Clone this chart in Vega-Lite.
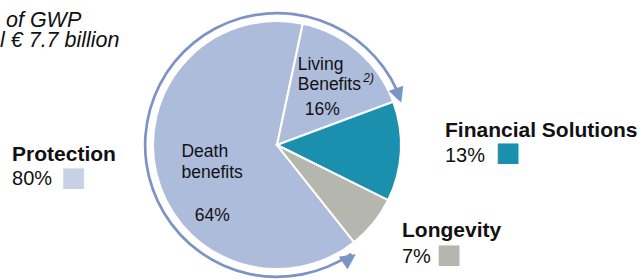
{
  "$schema": "https://vega.github.io/schema/vega-lite/v6.json",
  "autosize": "none",
  "width": 554,
  "height": 268,
  "padding": {"left": 0, "top": 11, "right": 90, "bottom": 0},
  "background": "white",
  "config": {"view": {"stroke": null}, "text": {"font": "Liberation Sans", "color": "#111111"}},
  "title": {
    "text": ["\u200b\u00a0of GWP", "l € 7.7 billion"],
    "anchor": "start",
    "frame": "group",
    "font": "Liberation Sans",
    "fontSize": 21.5,
    "fontStyle": "italic",
    "fontWeight": "normal",
    "color": "#111111",
    "lineHeight": 20,
    "offset": 0,
    "dy": 40
  },
  "datasets": {
    "slices": [
      {"segment": "Death benefits", "group": "Protection", "value": 64, "o": 1, "lines": "Death\nbenefits", "pct": "64%"},
      {"segment": "Living Benefits", "group": "Protection", "value": 16, "o": 2, "lines": "Living\nBenefits", "pct": "16%"},
      {"segment": "Financial Solutions", "group": "Financial Solutions", "value": 13, "o": 3, "lines": "", "pct": ""},
      {"segment": "Longevity", "group": "Longevity", "value": 7, "o": 4, "lines": "", "pct": ""}
    ],
    "groups": [
      {"group": "Protection", "value": 80, "o": 1, "pct": "80%"},
      {"group": "Financial Solutions", "value": 13, "o": 2, "pct": "13%"},
      {"group": "Longevity", "value": 7, "o": 3, "pct": "7%"}
    ]
  },
  "layer": [
    {
      "data": {"name": "slices"},
      "mark": {"type": "arc", "outerRadius": 124, "stroke": "white", "strokeWidth": 2},
      "encoding": {
        "theta": {"field": "value", "type": "quantitative", "stack": true, "scale": {"domain": [0, 100], "range": [2.47139, 8.75457]}},
        "order": {"field": "o", "type": "quantitative"},
        "color": {"field": "segment", "type": "nominal", "legend": null,
          "scale": {"domain": ["Death benefits", "Living Benefits", "Financial Solutions", "Longevity"], "range": ["#aebcdc", "#aebcdc", "#1a8fae", "#b5b6ae"]}}
      }
    },
    {
      "data": {"name": "groups"},
      "transform": [{"filter": "datum.group === 'Protection'"}],
      "mark": {"type": "arc", "innerRadius": 130.5, "outerRadius": 133.2, "padAngle": 0.1, "color": "#7b93c5"},
      "encoding": {
        "theta": {"field": "value", "type": "quantitative", "stack": true, "scale": {"domain": [0, 100], "range": [2.47139, 8.75457]}}
      }
    },
    {
      "data": {"name": "groups"},
      "transform": [
        {"stack": "value", "groupby": [], "sort": [{"field": "o", "order": "ascending"}], "as": ["t0", "t1"]},
        {"filter": "datum.group === 'Protection'"}
      ],
      "mark": {"type": "text", "text": "▶", "font": "DejaVu Sans", "fontSize": 20, "radius": 132, "angle": 70, "dx": -4, "align": "center", "baseline": "middle", "color": "#7b93c5"},
      "encoding": {
        "theta": {"field": "t1", "type": "quantitative", "stack": null, "scale": {"domain": [0, 100], "range": [2.47139, 8.75457]}}
      }
    },
    {
      "data": {"name": "groups"},
      "transform": [
        {"stack": "value", "groupby": [], "sort": [{"field": "o", "order": "ascending"}], "as": ["t0", "t1"]},
        {"filter": "datum.group === 'Protection'"}
      ],
      "mark": {"type": "text", "text": "▶", "font": "DejaVu Sans", "fontSize": 20, "radius": 134, "angle": 325, "dx": -14, "align": "center", "baseline": "middle", "color": "#7b93c5"},
      "encoding": {
        "theta": {"field": "t0", "type": "quantitative", "stack": null, "scale": {"domain": [0, 100], "range": [2.47139, 8.75457]}}
      }
    },
    {
      "data": {"name": "slices"},
      "mark": {"type": "text", "radius": 70, "align": "left", "baseline": "alphabetic", "fontSize": 17.5, "lineHeight": 21, "lineBreak": "\n", "dx": -27.4, "dy": -3.5},
      "encoding": {
        "theta": {"field": "value", "type": "quantitative", "stack": true, "scale": {"domain": [0, 100], "range": [2.47139, 8.75457]}},
        "order": {"field": "o", "type": "quantitative"},
        "text": {"condition": {"test": "datum.segment === 'Death benefits'", "field": "lines", "type": "nominal"}, "value": ""}
      }
    },
    {
      "data": {"name": "slices"},
      "mark": {"type": "text", "radius": 70, "align": "left", "baseline": "alphabetic", "fontSize": 17.5, "dx": -14, "dy": 60},
      "encoding": {
        "theta": {"field": "value", "type": "quantitative", "stack": true, "scale": {"domain": [0, 100], "range": [2.47139, 8.75457]}},
        "order": {"field": "o", "type": "quantitative"},
        "text": {"condition": {"test": "datum.segment === 'Death benefits'", "field": "pct", "type": "nominal"}, "value": ""}
      }
    },
    {
      "data": {"name": "slices"},
      "mark": {"type": "text", "radius": 70, "align": "left", "baseline": "alphabetic", "fontSize": 17.5, "lineHeight": 20, "lineBreak": "\n", "dx": -25, "dy": -22},
      "encoding": {
        "theta": {"field": "value", "type": "quantitative", "stack": true, "scale": {"domain": [0, 100], "range": [2.47139, 8.75457]}},
        "order": {"field": "o", "type": "quantitative"},
        "text": {"condition": {"test": "datum.segment === 'Living Benefits'", "field": "lines", "type": "nominal"}, "value": ""}
      }
    },
    {
      "data": {"name": "slices"},
      "mark": {"type": "text", "radius": 70, "align": "left", "baseline": "alphabetic", "fontSize": 12, "fontStyle": "italic", "dx": 40.5, "dy": -10},
      "encoding": {
        "theta": {"field": "value", "type": "quantitative", "stack": true, "scale": {"domain": [0, 100], "range": [2.47139, 8.75457]}},
        "order": {"field": "o", "type": "quantitative"},
        "text": {"condition": {"test": "datum.segment === 'Living Benefits'", "value": "2)"}, "value": ""}
      }
    },
    {
      "data": {"name": "slices"},
      "mark": {"type": "text", "radius": 70, "align": "left", "baseline": "alphabetic", "fontSize": 17.5, "dx": -18, "dy": 23},
      "encoding": {
        "theta": {"field": "value", "type": "quantitative", "stack": true, "scale": {"domain": [0, 100], "range": [2.47139, 8.75457]}},
        "order": {"field": "o", "type": "quantitative"},
        "text": {"condition": {"test": "datum.segment === 'Living Benefits'", "field": "pct", "type": "nominal"}, "value": ""}
      }
    },
    {
      "data": {"name": "groups"},
      "mark": {"type": "text", "radius": 150, "align": "left", "baseline": "alphabetic", "fontSize": 21, "fontWeight": "bold", "dx": -120.5, "dy": 56.5},
      "encoding": {
        "theta": {"field": "value", "type": "quantitative", "stack": true, "scale": {"domain": [0, 100], "range": [2.47139, 8.75457]}},
        "order": {"field": "o", "type": "quantitative"},
        "text": {"condition": {"test": "datum.group === 'Protection'", "field": "group", "type": "nominal"}, "value": ""}
      }
    },
    {
      "data": {"name": "groups"},
      "mark": {"type": "text", "radius": 150, "align": "left", "baseline": "alphabetic", "fontSize": 20, "dx": -120.5, "dy": 80.3},
      "encoding": {
        "theta": {"field": "value", "type": "quantitative", "stack": true, "scale": {"domain": [0, 100], "range": [2.47139, 8.75457]}},
        "order": {"field": "o", "type": "quantitative"},
        "text": {"condition": {"test": "datum.group === 'Protection'", "field": "pct", "type": "nominal"}, "value": ""}
      }
    },
    {
      "data": {"name": "groups"},
      "mark": {"type": "text", "radius": 150, "align": "center", "baseline": "middle", "font": "DejaVu Sans", "fontSize": 27, "color": "#c7d1e5", "dx": -59, "dy": 73.5},
      "encoding": {
        "theta": {"field": "value", "type": "quantitative", "stack": true, "scale": {"domain": [0, 100], "range": [2.47139, 8.75457]}},
        "order": {"field": "o", "type": "quantitative"},
        "text": {"condition": {"test": "datum.group === 'Protection'", "value": "■"}, "value": ""}
      }
    },
    {
      "data": {"name": "groups"},
      "mark": {"type": "text", "radius": 150, "align": "left", "baseline": "alphabetic", "fontSize": 21, "fontWeight": "bold", "dx": 18.2, "dy": -15.5},
      "encoding": {
        "theta": {"field": "value", "type": "quantitative", "stack": true, "scale": {"domain": [0, 100], "range": [2.47139, 8.75457]}},
        "order": {"field": "o", "type": "quantitative"},
        "text": {"condition": {"test": "datum.group === 'Financial Solutions'", "field": "group", "type": "nominal"}, "value": ""}
      }
    },
    {
      "data": {"name": "groups"},
      "mark": {"type": "text", "radius": 150, "align": "left", "baseline": "alphabetic", "fontSize": 20, "dx": 18.2, "dy": 9.2},
      "encoding": {
        "theta": {"field": "value", "type": "quantitative", "stack": true, "scale": {"domain": [0, 100], "range": [2.47139, 8.75457]}},
        "order": {"field": "o", "type": "quantitative"},
        "text": {"condition": {"test": "datum.group === 'Financial Solutions'", "field": "pct", "type": "nominal"}, "value": ""}
      }
    },
    {
      "data": {"name": "groups"},
      "mark": {"type": "text", "radius": 150, "align": "center", "baseline": "middle", "font": "DejaVu Sans", "fontSize": 27, "color": "#1a8fae", "dx": 81.2, "dy": 0},
      "encoding": {
        "theta": {"field": "value", "type": "quantitative", "stack": true, "scale": {"domain": [0, 100], "range": [2.47139, 8.75457]}},
        "order": {"field": "o", "type": "quantitative"},
        "text": {"condition": {"test": "datum.group === 'Financial Solutions'", "value": "■"}, "value": ""}
      }
    },
    {
      "data": {"name": "groups"},
      "mark": {"type": "text", "radius": 150, "align": "left", "baseline": "alphabetic", "fontSize": 21, "fontWeight": "bold", "dx": 8.4, "dy": -2.4},
      "encoding": {
        "theta": {"field": "value", "type": "quantitative", "stack": true, "scale": {"domain": [0, 100], "range": [2.47139, 8.75457]}},
        "order": {"field": "o", "type": "quantitative"},
        "text": {"condition": {"test": "datum.group === 'Longevity'", "field": "group", "type": "nominal"}, "value": ""}
      }
    },
    {
      "data": {"name": "groups"},
      "mark": {"type": "text", "radius": 150, "align": "left", "baseline": "alphabetic", "fontSize": 20, "dx": 8.4, "dy": 23.6},
      "encoding": {
        "theta": {"field": "value", "type": "quantitative", "stack": true, "scale": {"domain": [0, 100], "range": [2.47139, 8.75457]}},
        "order": {"field": "o", "type": "quantitative"},
        "text": {"condition": {"test": "datum.group === 'Longevity'", "field": "pct", "type": "nominal"}, "value": ""}
      }
    },
    {
      "data": {"name": "groups"},
      "mark": {"type": "text", "radius": 150, "align": "center", "baseline": "middle", "font": "DejaVu Sans", "fontSize": 27, "color": "#b5b6ae", "dx": 55.4, "dy": 15.6},
      "encoding": {
        "theta": {"field": "value", "type": "quantitative", "stack": true, "scale": {"domain": [0, 100], "range": [2.47139, 8.75457]}},
        "order": {"field": "o", "type": "quantitative"},
        "text": {"condition": {"test": "datum.group === 'Longevity'", "value": "■"}, "value": ""}
      }
    }
  ]
}
